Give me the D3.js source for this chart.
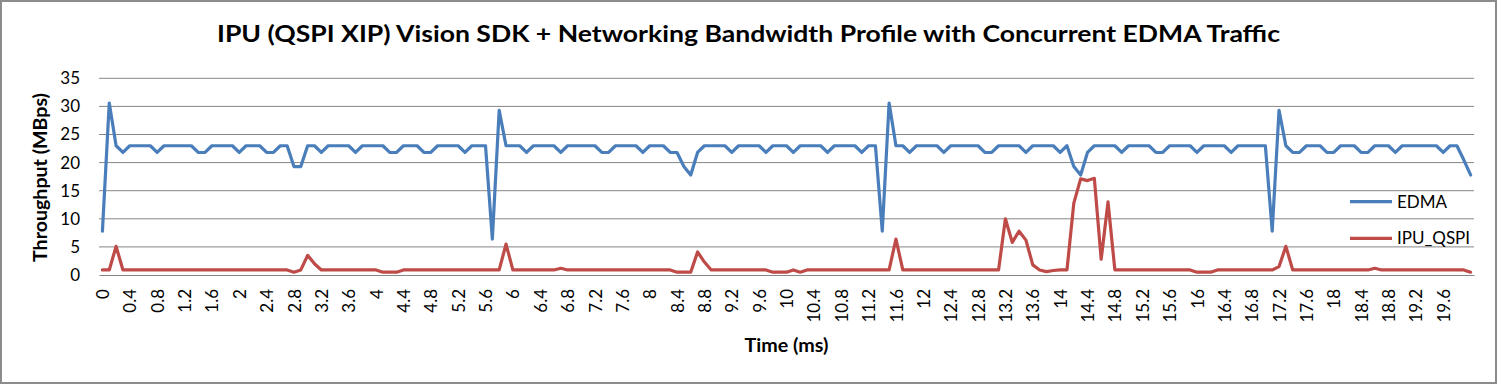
<!DOCTYPE html>
<html>
<head>
<meta charset="utf-8">
<script src="https://cdn.jsdelivr.net/npm/d3@7"></script>
<style>
  body { margin: 0; background: #fff; }
</style>
</head>
<body>
<svg id="chart" width="1497" height="384"></svg>
<script>
/* chart data */
var times = [
  0, 0.1, 0.2, 0.3, 0.4, 0.5, 0.6, 0.7, 0.8, 0.9, 1, 1.1, 1.2, 1.3, 1.4, 1.5, 1.6, 1.7, 1.8, 1.9,
  2, 2.1, 2.2, 2.3, 2.4, 2.5, 2.6, 2.7, 2.8, 2.9, 3, 3.1, 3.2, 3.3, 3.4, 3.5, 3.6, 3.7, 3.8, 3.9,
  4, 4.1, 4.2, 4.3, 4.4, 4.5, 4.6, 4.7, 4.8, 4.9, 5, 5.1, 5.2, 5.3, 5.4, 5.5, 5.6, 5.7, 5.8, 5.9,
  6, 6.1, 6.2, 6.3, 6.4, 6.5, 6.6, 6.7, 6.8, 6.9, 7, 7.1, 7.2, 7.3, 7.4, 7.5, 7.6, 7.7, 7.8, 7.9,
  8, 8.1, 8.2, 8.3, 8.4, 8.5, 8.6, 8.7, 8.8, 8.9, 9, 9.1, 9.2, 9.3, 9.4, 9.5, 9.6, 9.7, 9.8, 9.9,
  10, 10.1, 10.2, 10.3, 10.4, 10.5, 10.6, 10.7, 10.8, 10.9, 11, 11.1, 11.2, 11.3, 11.4, 11.5, 11.6, 11.7, 11.8, 11.9,
  12, 12.1, 12.2, 12.3, 12.4, 12.5, 12.6, 12.7, 12.8, 12.9, 13, 13.1, 13.2, 13.3, 13.4, 13.5, 13.6, 13.7, 13.8, 13.9,
  14, 14.1, 14.2, 14.3, 14.4, 14.5, 14.6, 14.7, 14.8, 14.9, 15, 15.1, 15.2, 15.3, 15.4, 15.5, 15.6, 15.7, 15.8, 15.9,
  16, 16.1, 16.2, 16.3, 16.4, 16.5, 16.6, 16.7, 16.8, 16.9, 17, 17.1, 17.2, 17.3, 17.4, 17.5, 17.6, 17.7, 17.8, 17.9,
  18, 18.1, 18.2, 18.3, 18.4, 18.5, 18.6, 18.7, 18.8, 18.9, 19, 19.1, 19.2, 19.3, 19.4, 19.5, 19.6, 19.7, 19.8, 19.9,
  20
];

var edma = [
  7.8, 30.6, 23, 21.8, 23, 23, 23, 23, 21.8, 23,
  23, 23, 23, 23, 21.8, 21.8, 23, 23, 23, 23,
  21.8, 23, 23, 23, 21.8, 21.8, 23, 23, 19.3, 19.3,
  23, 23, 21.8, 23, 23, 23, 23, 21.8, 23, 23,
  23, 23, 21.8, 21.8, 23, 23, 23, 21.8, 21.8, 23,
  23, 23, 23, 21.8, 23, 23, 23, 6.4, 29.3, 23,
  23, 23, 21.8, 23, 23, 23, 23, 21.8, 23, 23,
  23, 23, 23, 21.8, 21.8, 23, 23, 23, 23, 21.8,
  23, 23, 23, 21.8, 21.8, 19.3, 17.8, 21.8, 23, 23,
  23, 23, 21.8, 23, 23, 23, 23, 21.8, 23, 23,
  23, 21.8, 23, 23, 23, 23, 21.8, 23, 23, 23,
  23, 21.8, 23, 23, 7.8, 30.6, 23, 23, 21.8, 23,
  23, 23, 23, 21.8, 23, 23, 23, 23, 23, 21.8,
  21.8, 23, 23, 23, 23, 21.8, 23, 23, 23, 23,
  21.8, 23, 19.3, 17.8, 21.8, 23, 23, 23, 23, 21.8,
  23, 23, 23, 23, 21.8, 21.8, 23, 23, 23, 23,
  21.8, 23, 23, 23, 23, 21.8, 23, 23, 23, 23,
  23, 7.8, 29.3, 23, 21.8, 21.8, 23, 23, 23, 21.8,
  21.8, 23, 23, 23, 21.8, 21.8, 23, 23, 23, 21.8,
  23, 23, 23, 23, 23, 23, 21.8, 23, 23, 20.5,
  17.8
];

var ipuQspi = [
  0.9, 0.9, 5.1, 0.9, 0.9, 0.9, 0.9, 0.9, 0.9, 0.9,
  0.9, 0.9, 0.9, 0.9, 0.9, 0.9, 0.9, 0.9, 0.9, 0.9,
  0.9, 0.9, 0.9, 0.9, 0.9, 0.9, 0.9, 0.9, 0.5, 0.9,
  3.5, 2.0, 0.9, 0.9, 0.9, 0.9, 0.9, 0.9, 0.9, 0.9,
  0.9, 0.5, 0.5, 0.5, 0.9, 0.9, 0.9, 0.9, 0.9, 0.9,
  0.9, 0.9, 0.9, 0.9, 0.9, 0.9, 0.9, 0.9, 0.9, 5.5,
  0.9, 0.9, 0.9, 0.9, 0.9, 0.9, 0.9, 1.2, 0.9, 0.9,
  0.9, 0.9, 0.9, 0.9, 0.9, 0.9, 0.9, 0.9, 0.9, 0.9,
  0.9, 0.9, 0.9, 0.9, 0.5, 0.5, 0.5, 4.1, 2.3, 0.9,
  0.9, 0.9, 0.9, 0.9, 0.9, 0.9, 0.9, 0.9, 0.5, 0.5,
  0.5, 0.9, 0.5, 0.9, 0.9, 0.9, 0.9, 0.9, 0.9, 0.9,
  0.9, 0.9, 0.9, 0.9, 0.9, 0.9, 6.4, 0.9, 0.9, 0.9,
  0.9, 0.9, 0.9, 0.9, 0.9, 0.9, 0.9, 0.9, 0.9, 0.9,
  0.9, 0.9, 10.0, 5.8, 7.8, 6.2, 1.8, 0.9, 0.6, 0.8,
  0.9, 0.9, 12.8, 17.1, 16.8, 17.2, 2.8, 13.0, 0.9, 0.9,
  0.9, 0.9, 0.9, 0.9, 0.9, 0.9, 0.9, 0.9, 0.9, 0.9,
  0.5, 0.5, 0.5, 0.9, 0.9, 0.9, 0.9, 0.9, 0.9, 0.9,
  0.9, 0.9, 1.5, 5.1, 0.9, 0.9, 0.9, 0.9, 0.9, 0.9,
  0.9, 0.9, 0.9, 0.9, 0.9, 0.9, 1.2, 0.9, 0.9, 0.9,
  0.9, 0.9, 0.9, 0.9, 0.9, 0.9, 0.9, 0.9, 0.9, 0.9,
  0.5
];

var tickLabels = [
  "0", "0.4", "0.8", "1.2", "1.6", "2", "2.4", "2.8", "3.2", "3.6",
  "4", "4.4", "4.8", "5.2", "5.6", "6", "6.4", "6.8", "7.2", "7.6",
  "8", "8.4", "8.8", "9.2", "9.6", "10", "10.4", "10.8", "11.2", "11.6",
  "12", "12.4", "12.8", "13.2", "13.6", "14", "14.4", "14.8", "15.2", "15.6",
  "16", "16.4", "16.8", "17.2", "17.6", "18", "18.4", "18.8", "19.2", "19.6"
];
var yTicks = [0, 5, 10, 15, 20, 25, 30, 35];
var seriesNames = ["EDMA", "IPU_QSPI"];
var seriesColors = ["#4a7ebb", "#be4b48"];

/* layout */
var W = 1497, H = 384;
var plot = { left: 99, right: 1474, top: 78.3, bottom: 275 };
var gridColor = "#868686";
var font = "Lato, 'Liberation Sans', sans-serif";

var svg = d3.select("#chart");

// outer frame
svg.append("rect")
   .attr("x", 1).attr("y", 1)
   .attr("width", W - 2).attr("height", H - 2)
   .attr("fill", "#fff")
   .attr("stroke", "#8c8c8c")
   .attr("stroke-width", 2);

var x = d3.scalePoint().domain(times).range([plot.left, plot.right]).padding(0.5);
var y = d3.scaleLinear().domain([0, 35]).range([plot.bottom, plot.top]);

// horizontal gridlines
svg.append("g").attr("class", "grid")
   .selectAll("line")
   .data(yTicks.filter(function(d) { return d > 0; }))
   .enter().append("line")
   .attr("x1", plot.left).attr("x2", plot.right)
   .attr("y1", function(d) { return y(d); })
   .attr("y2", function(d) { return y(d); })
   .attr("stroke", gridColor)
   .attr("stroke-width", 1);

// y axis (labels only)
var yAxis = svg.append("g")
   .attr("transform", "translate(" + plot.left + ",0)")
   .call(d3.axisLeft(y).tickValues(yTicks).tickSize(0).tickPadding(19));
yAxis.select(".domain").remove();
yAxis.selectAll("text")
     .attr("font-family", font)
     .attr("font-size", 17)
     .attr("fill", "#000");

// x axis
var xAxis = svg.append("g")
   .attr("transform", "translate(0," + plot.bottom + ")")
   .call(d3.axisBottom(x)
           .tickValues(tickLabels.map(Number))
           .tickSize(0)
           .tickSizeOuter(0)
           .tickFormat(function(d, i) { return tickLabels[i]; }));
xAxis.select(".domain")
     .attr("stroke", gridColor)
     .attr("stroke-width", 1);
xAxis.selectAll("text")
     .attr("font-family", font)
     .attr("font-size", 17)
     .attr("fill", "#000")
     .attr("transform", "rotate(-90)")
     .attr("text-anchor", "end")
     .attr("x", -14)
     .attr("y", 0)
     .attr("dy", "0.36em");

// series lines
var line = d3.line()
   .x(function(d, i) { return x(times[i]); })
   .y(function(d) { return y(d); });

[edma, ipuQspi].forEach(function(s, k) {
  svg.append("path")
     .datum(s)
     .attr("d", line)
     .attr("fill", "none")
     .attr("stroke", seriesColors[k])
     .attr("stroke-width", 3.2)
     .attr("stroke-linejoin", "round")
     .attr("stroke-linecap", "round");
});

// legend
var legendY = [201.7, 238.3];
seriesNames.forEach(function(name, k) {
  svg.append("line")
     .attr("x1", 1350).attr("x2", 1392)
     .attr("y1", legendY[k]).attr("y2", legendY[k])
     .attr("stroke", seriesColors[k])
     .attr("stroke-width", 3.2);
  svg.append("text")
     .attr("x", 1397).attr("y", legendY[k])
     .attr("dy", "0.36em")
     .attr("font-family", font)
     .attr("font-size", 17)
     .text(name);
});

// titles
svg.append("text")
   .attr("x", W / 2).attr("y", 42)
   .attr("text-anchor", "middle")
   .attr("font-family", font)
   .attr("font-weight", "bold")
   .attr("font-size", 23.5)
   .attr("textLength", 1063)
   .attr("lengthAdjust", "spacingAndGlyphs")
   .text("IPU (QSPI XIP) Vision SDK + Networking Bandwidth Profile with Concurrent EDMA Traffic");

svg.append("text")
   .attr("transform", "translate(46.7,177.5) rotate(-90)")
   .attr("text-anchor", "middle")
   .attr("font-family", font)
   .attr("font-weight", "bold")
   .attr("font-size", 18)
   .attr("textLength", 169)
   .attr("lengthAdjust", "spacingAndGlyphs")
   .text("Throughput (MBps)");

svg.append("text")
   .attr("x", (plot.left + plot.right) / 2).attr("y", 351.7)
   .attr("text-anchor", "middle")
   .attr("font-family", font)
   .attr("font-weight", "bold")
   .attr("font-size", 18)
   .attr("textLength", 84)
   .attr("lengthAdjust", "spacingAndGlyphs")
   .text("Time (ms)");
</script>
</body>
</html>
